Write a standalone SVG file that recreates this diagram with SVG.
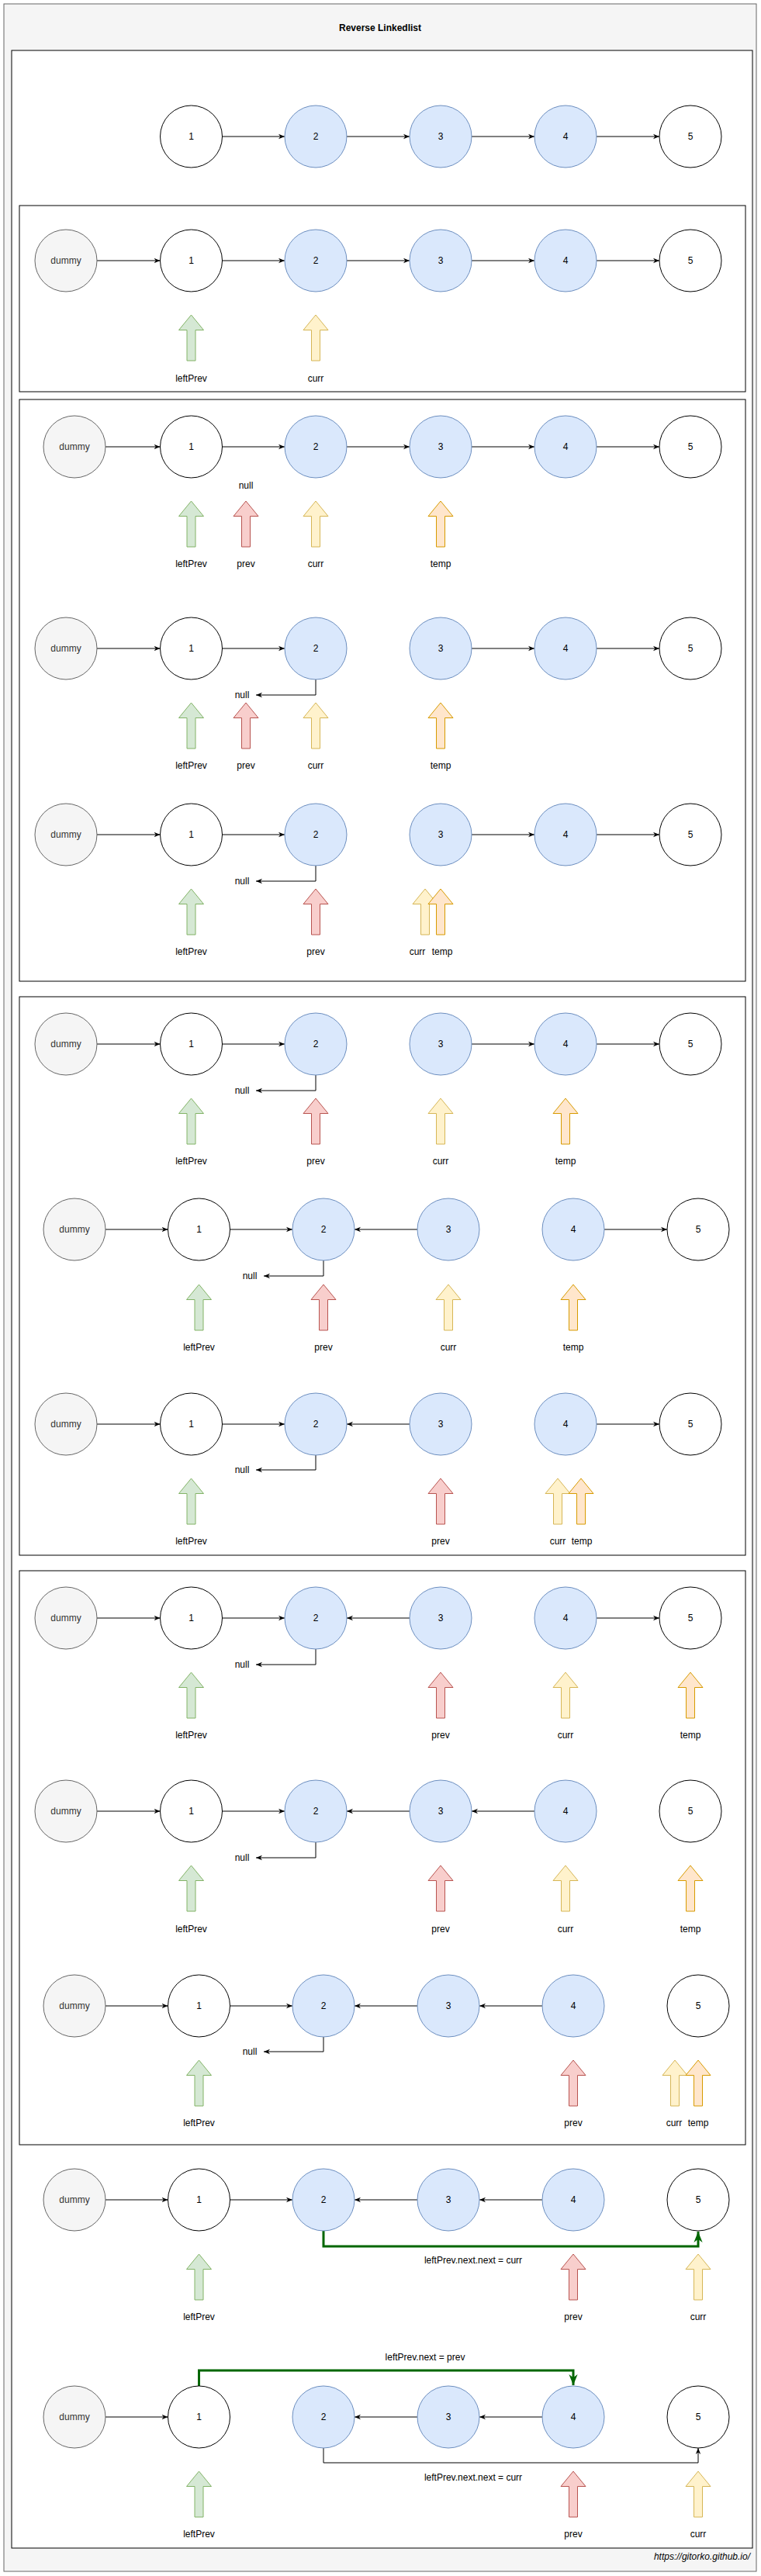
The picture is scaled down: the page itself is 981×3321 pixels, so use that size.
<svg xmlns="http://www.w3.org/2000/svg" width="981" height="3321" viewBox="0 0 981 3321">
<style>
text{font-family:"Liberation Sans",Arial,Helvetica,sans-serif;font-size:12px;text-anchor:middle;dominant-baseline:central;fill:#000}
.w{fill:#fff;stroke:#000;stroke-width:1}
.b{fill:#dae8fc;stroke:#6c8ebf;stroke-width:1}
.d{fill:#f5f5f5;stroke:#666;stroke-width:1}
text.dt{fill:#333}
.pg{fill:#d5e8d4;stroke:#82b366;stroke-width:1}
.pr{fill:#f8cecc;stroke:#b85450;stroke-width:1}
.py{fill:#fff2cc;stroke:#d6b656;stroke-width:1}
.po{fill:#ffe6cc;stroke:#d79b00;stroke-width:1}
.c{fill:none;stroke:#000;stroke-width:1;marker-end:url(#ah)}
.gc{fill:none;stroke:#006600;stroke-width:3;marker-end:url(#gah)}
.box{fill:none;stroke:#000;stroke-width:1}
</style>
<defs>
<marker id="ah" viewBox="0 0 10 10" refX="10" refY="5" markerWidth="8" markerHeight="8" markerUnits="userSpaceOnUse" orient="auto"><path d="M0,1 L10,5 L0,9 L3,5 Z" fill="#000"/></marker>
<marker id="gah" viewBox="0 0 10 10" refX="10" refY="5" markerWidth="14" markerHeight="14" markerUnits="userSpaceOnUse" orient="auto"><path d="M0,1 L10,5 L0,9 L3,5 Z" fill="#006600"/></marker>
<path id="pa" d="M0,0 L16,19.5 L5.5,19.5 L5.5,59 L-5.5,59 L-5.5,19.5 L-16,19.5 Z"/>
</defs>

<g id="frame">
<rect x="5" y="5" width="970" height="3310" fill="#f5f5f5" stroke="#666"/>
<text x="490" y="36" font-weight="bold">Reverse Linkedlist</text>
<rect x="15" y="65" width="955" height="3220" fill="#fff" stroke="#000"/>
<rect class="box" x="25" y="265" width="936" height="240"/>
<rect class="box" x="25" y="515" width="936" height="750"/>
<rect class="box" x="25" y="1285" width="936" height="720"/>
<rect class="box" x="25" y="2025" width="936" height="740"/>
<text x="967" y="3296" font-style="italic" style="text-anchor:end">https://gitorko.github.io/</text>
</g>

<g id="connectors">
<!-- top row -->
<line class="c" x1="286.5" y1="176" x2="367" y2="176"/>
<line class="c" x1="447" y1="176" x2="528" y2="176"/>
<line class="c" x1="608" y1="176" x2="689" y2="176"/>
<line class="c" x1="769" y1="176" x2="850" y2="176"/>
<!-- S1 -->
<line class="c" x1="125" y1="336" x2="206.5" y2="336"/>
<line class="c" x1="286.5" y1="336" x2="367" y2="336"/>
<line class="c" x1="447" y1="336" x2="528" y2="336"/>
<line class="c" x1="608" y1="336" x2="689" y2="336"/>
<line class="c" x1="769" y1="336" x2="850" y2="336"/>
<!-- S2a -->
<line class="c" x1="136" y1="576" x2="206.5" y2="576"/>
<line class="c" x1="286.5" y1="576" x2="367" y2="576"/>
<line class="c" x1="447" y1="576" x2="528" y2="576"/>
<line class="c" x1="608" y1="576" x2="689" y2="576"/>
<line class="c" x1="769" y1="576" x2="850" y2="576"/>
<!-- S2b -->
<line class="c" x1="125" y1="836" x2="206.5" y2="836"/>
<line class="c" x1="286.5" y1="836" x2="367" y2="836"/>
<line class="c" x1="608" y1="836" x2="689" y2="836"/>
<line class="c" x1="769" y1="836" x2="850" y2="836"/>
<path class="c" d="M407,876 V896 H330"/>
<!-- S2c -->
<line class="c" x1="125" y1="1076" x2="206.5" y2="1076"/>
<line class="c" x1="286.5" y1="1076" x2="367" y2="1076"/>
<line class="c" x1="608" y1="1076" x2="689" y2="1076"/>
<line class="c" x1="769" y1="1076" x2="850" y2="1076"/>
<path class="c" d="M407,1116 V1136 H330"/>
<!-- S3a -->
<line class="c" x1="125" y1="1346" x2="206.5" y2="1346"/>
<line class="c" x1="286.5" y1="1346" x2="367" y2="1346"/>
<line class="c" x1="608" y1="1346" x2="689" y2="1346"/>
<line class="c" x1="769" y1="1346" x2="850" y2="1346"/>
<path class="c" d="M407,1386 V1406 H330"/>
<!-- S3b -->
<line class="c" x1="136" y1="1585" x2="216.5" y2="1585"/>
<line class="c" x1="296.5" y1="1585" x2="377" y2="1585"/>
<line class="c" x1="538" y1="1585" x2="457" y2="1585"/>
<line class="c" x1="779" y1="1585" x2="860" y2="1585"/>
<path class="c" d="M417,1625 V1645 H340"/>
<!-- S3c -->
<line class="c" x1="125" y1="1836" x2="206.5" y2="1836"/>
<line class="c" x1="286.5" y1="1836" x2="367" y2="1836"/>
<line class="c" x1="528" y1="1836" x2="447" y2="1836"/>
<line class="c" x1="769" y1="1836" x2="850" y2="1836"/>
<path class="c" d="M407,1876 V1895 H330"/>
<!-- S4a -->
<line class="c" x1="125" y1="2086" x2="206.5" y2="2086"/>
<line class="c" x1="286.5" y1="2086" x2="367" y2="2086"/>
<line class="c" x1="528" y1="2086" x2="447" y2="2086"/>
<line class="c" x1="769" y1="2086" x2="850" y2="2086"/>
<path class="c" d="M407,2126 V2146 H330"/>
<!-- S4b -->
<line class="c" x1="125" y1="2335" x2="206.5" y2="2335"/>
<line class="c" x1="286.5" y1="2335" x2="367" y2="2335"/>
<line class="c" x1="528" y1="2335" x2="447" y2="2335"/>
<line class="c" x1="689" y1="2335" x2="608" y2="2335"/>
<path class="c" d="M407,2375 V2395 H330"/>
<!-- S4c -->
<line class="c" x1="136" y1="2586" x2="216.5" y2="2586"/>
<line class="c" x1="296.5" y1="2586" x2="377" y2="2586"/>
<line class="c" x1="538" y1="2586" x2="457" y2="2586"/>
<line class="c" x1="699" y1="2586" x2="618" y2="2586"/>
<path class="c" d="M417,2626 V2645 H340"/>
<!-- F1 -->
<line class="c" x1="136" y1="2836" x2="216.5" y2="2836"/>
<line class="c" x1="296.5" y1="2836" x2="377" y2="2836"/>
<line class="c" x1="538" y1="2836" x2="457" y2="2836"/>
<line class="c" x1="699" y1="2836" x2="618" y2="2836"/>
<path class="gc" d="M417,2876 V2896 H900 V2877"/>
<!-- F2 -->
<line class="c" x1="136" y1="3116" x2="216.5" y2="3116"/>
<line class="c" x1="538" y1="3116" x2="457" y2="3116"/>
<line class="c" x1="699" y1="3116" x2="618" y2="3116"/>
<path class="gc" d="M256.5,3076 V3056 H739 V3075"/>
<path class="c" d="M417,3156 V3175 H900 V3156"/>
</g>

<g id="labels">
<text x="317" y="626">null</text>
<text x="312" y="896">null</text>
<text x="312" y="1136">null</text>
<text x="312" y="1406">null</text>
<text x="322" y="1645">null</text>
<text x="312" y="1895">null</text>
<text x="312" y="2146">null</text>
<text x="312" y="2395">null</text>
<text x="322" y="2645">null</text>
<text x="610" y="2914">leftPrev.next.next = curr</text>
<text x="548" y="3039">leftPrev.next = prev</text>
<text x="610" y="3194">leftPrev.next.next = curr</text>
</g>

<!-- Top row -->
<g id="rowT">
<g id="t-n1"><circle class="w" cx="246.5" cy="176" r="40"/><text x="246.5" y="176">1</text></g>
<g id="t-n2"><circle class="b" cx="407" cy="176" r="40"/><text x="407" y="176">2</text></g>
<g id="t-n3"><circle class="b" cx="568" cy="176" r="40"/><text x="568" y="176">3</text></g>
<g id="t-n4"><circle class="b" cx="729" cy="176" r="40"/><text x="729" y="176">4</text></g>
<g id="t-n5"><circle class="w" cx="890" cy="176" r="40"/><text x="890" y="176">5</text></g>
</g>

<!-- S1 -->
<g id="rowS1">
<g id="s1-d"><circle class="d" cx="85" cy="336" r="40"/><text class="dt" x="85" y="336">dummy</text></g>
<g id="s1-n1"><circle class="w" cx="246.5" cy="336" r="40"/><text x="246.5" y="336">1</text></g>
<g id="s1-n2"><circle class="b" cx="407" cy="336" r="40"/><text x="407" y="336">2</text></g>
<g id="s1-n3"><circle class="b" cx="568" cy="336" r="40"/><text x="568" y="336">3</text></g>
<g id="s1-n4"><circle class="b" cx="729" cy="336" r="40"/><text x="729" y="336">4</text></g>
<g id="s1-n5"><circle class="w" cx="890" cy="336" r="40"/><text x="890" y="336">5</text></g>
<g id="s1-lp"><use href="#pa" x="246.5" y="406" class="pg"/><text x="246.5" y="488">leftPrev</text></g>
<g id="s1-cu"><use href="#pa" x="407" y="406" class="py"/><text x="407" y="488">curr</text></g>
</g>

<!-- S2a -->
<g id="rowS2a">
<g id="s2a-d"><circle class="d" cx="96" cy="576" r="40"/><text class="dt" x="96" y="576">dummy</text></g>
<g id="s2a-n1"><circle class="w" cx="246.5" cy="576" r="40"/><text x="246.5" y="576">1</text></g>
<g id="s2a-n2"><circle class="b" cx="407" cy="576" r="40"/><text x="407" y="576">2</text></g>
<g id="s2a-n3"><circle class="b" cx="568" cy="576" r="40"/><text x="568" y="576">3</text></g>
<g id="s2a-n4"><circle class="b" cx="729" cy="576" r="40"/><text x="729" y="576">4</text></g>
<g id="s2a-n5"><circle class="w" cx="890" cy="576" r="40"/><text x="890" y="576">5</text></g>
<g id="s2a-lp"><use href="#pa" x="246.5" y="646" class="pg"/><text x="246.5" y="727">leftPrev</text></g>
<g id="s2a-pv"><use href="#pa" x="317" y="646" class="pr"/><text x="317" y="727">prev</text></g>
<g id="s2a-cu"><use href="#pa" x="407" y="646" class="py"/><text x="407" y="727">curr</text></g>
<g id="s2a-tp"><use href="#pa" x="568" y="646" class="po"/><text x="568" y="727">temp</text></g>
</g>

<!-- S2b -->
<g id="rowS2b">
<g id="s2b-d"><circle class="d" cx="85" cy="836" r="40"/><text class="dt" x="85" y="836">dummy</text></g>
<g id="s2b-n1"><circle class="w" cx="246.5" cy="836" r="40"/><text x="246.5" y="836">1</text></g>
<g id="s2b-n2"><circle class="b" cx="407" cy="836" r="40"/><text x="407" y="836">2</text></g>
<g id="s2b-n3"><circle class="b" cx="568" cy="836" r="40"/><text x="568" y="836">3</text></g>
<g id="s2b-n4"><circle class="b" cx="729" cy="836" r="40"/><text x="729" y="836">4</text></g>
<g id="s2b-n5"><circle class="w" cx="890" cy="836" r="40"/><text x="890" y="836">5</text></g>
<g id="s2b-lp"><use href="#pa" x="246.5" y="906" class="pg"/><text x="246.5" y="987">leftPrev</text></g>
<g id="s2b-pv"><use href="#pa" x="317" y="906" class="pr"/><text x="317" y="987">prev</text></g>
<g id="s2b-cu"><use href="#pa" x="407" y="906" class="py"/><text x="407" y="987">curr</text></g>
<g id="s2b-tp"><use href="#pa" x="568" y="906" class="po"/><text x="568" y="987">temp</text></g>
</g>

<!-- S2c -->
<g id="rowS2c">
<g id="s2c-d"><circle class="d" cx="85" cy="1076" r="40"/><text class="dt" x="85" y="1076">dummy</text></g>
<g id="s2c-n1"><circle class="w" cx="246.5" cy="1076" r="40"/><text x="246.5" y="1076">1</text></g>
<g id="s2c-n2"><circle class="b" cx="407" cy="1076" r="40"/><text x="407" y="1076">2</text></g>
<g id="s2c-n3"><circle class="b" cx="568" cy="1076" r="40"/><text x="568" y="1076">3</text></g>
<g id="s2c-n4"><circle class="b" cx="729" cy="1076" r="40"/><text x="729" y="1076">4</text></g>
<g id="s2c-n5"><circle class="w" cx="890" cy="1076" r="40"/><text x="890" y="1076">5</text></g>
<g id="s2c-lp"><use href="#pa" x="246.5" y="1146" class="pg"/><text x="246.5" y="1227">leftPrev</text></g>
<g id="s2c-pv"><use href="#pa" x="407" y="1146" class="pr"/><text x="407" y="1227">prev</text></g>
<g id="s2c-cu"><use href="#pa" x="548" y="1146" class="py"/><text x="538" y="1227">curr</text></g>
<g id="s2c-tp"><use href="#pa" x="568" y="1146" class="po"/><text x="570" y="1227">temp</text></g>
</g>

<!-- S3a -->
<g id="rowS3a">
<g id="s3a-d"><circle class="d" cx="85" cy="1346" r="40"/><text class="dt" x="85" y="1346">dummy</text></g>
<g id="s3a-n1"><circle class="w" cx="246.5" cy="1346" r="40"/><text x="246.5" y="1346">1</text></g>
<g id="s3a-n2"><circle class="b" cx="407" cy="1346" r="40"/><text x="407" y="1346">2</text></g>
<g id="s3a-n3"><circle class="b" cx="568" cy="1346" r="40"/><text x="568" y="1346">3</text></g>
<g id="s3a-n4"><circle class="b" cx="729" cy="1346" r="40"/><text x="729" y="1346">4</text></g>
<g id="s3a-n5"><circle class="w" cx="890" cy="1346" r="40"/><text x="890" y="1346">5</text></g>
<g id="s3a-lp"><use href="#pa" x="246.5" y="1416" class="pg"/><text x="246.5" y="1497">leftPrev</text></g>
<g id="s3a-pv"><use href="#pa" x="407" y="1416" class="pr"/><text x="407" y="1497">prev</text></g>
<g id="s3a-cu"><use href="#pa" x="568" y="1416" class="py"/><text x="568" y="1497">curr</text></g>
<g id="s3a-tp"><use href="#pa" x="729" y="1416" class="po"/><text x="729" y="1497">temp</text></g>
</g>

<!-- S3b -->
<g id="rowS3b">
<g id="s3b-d"><circle class="d" cx="96" cy="1585" r="40"/><text class="dt" x="96" y="1585">dummy</text></g>
<g id="s3b-n1"><circle class="w" cx="256.5" cy="1585" r="40"/><text x="256.5" y="1585">1</text></g>
<g id="s3b-n2"><circle class="b" cx="417" cy="1585" r="40"/><text x="417" y="1585">2</text></g>
<g id="s3b-n3"><circle class="b" cx="578" cy="1585" r="40"/><text x="578" y="1585">3</text></g>
<g id="s3b-n4"><circle class="b" cx="739" cy="1585" r="40"/><text x="739" y="1585">4</text></g>
<g id="s3b-n5"><circle class="w" cx="900" cy="1585" r="40"/><text x="900" y="1585">5</text></g>
<g id="s3b-lp"><use href="#pa" x="256.5" y="1656" class="pg"/><text x="256.5" y="1737">leftPrev</text></g>
<g id="s3b-pv"><use href="#pa" x="417" y="1656" class="pr"/><text x="417" y="1737">prev</text></g>
<g id="s3b-cu"><use href="#pa" x="578" y="1656" class="py"/><text x="578" y="1737">curr</text></g>
<g id="s3b-tp"><use href="#pa" x="739" y="1656" class="po"/><text x="739" y="1737">temp</text></g>
</g>

<!-- S3c -->
<g id="rowS3c">
<g id="s3c-d"><circle class="d" cx="85" cy="1836" r="40"/><text class="dt" x="85" y="1836">dummy</text></g>
<g id="s3c-n1"><circle class="w" cx="246.5" cy="1836" r="40"/><text x="246.5" y="1836">1</text></g>
<g id="s3c-n2"><circle class="b" cx="407" cy="1836" r="40"/><text x="407" y="1836">2</text></g>
<g id="s3c-n3"><circle class="b" cx="568" cy="1836" r="40"/><text x="568" y="1836">3</text></g>
<g id="s3c-n4"><circle class="b" cx="729" cy="1836" r="40"/><text x="729" y="1836">4</text></g>
<g id="s3c-n5"><circle class="w" cx="890" cy="1836" r="40"/><text x="890" y="1836">5</text></g>
<g id="s3c-lp"><use href="#pa" x="246.5" y="1906" class="pg"/><text x="246.5" y="1987">leftPrev</text></g>
<g id="s3c-pv"><use href="#pa" x="568" y="1906" class="pr"/><text x="568" y="1987">prev</text></g>
<g id="s3c-cu"><use href="#pa" x="719" y="1906" class="py"/><text x="719" y="1987">curr</text></g>
<g id="s3c-tp"><use href="#pa" x="749" y="1906" class="po"/><text x="750" y="1987">temp</text></g>
</g>

<!-- S4a -->
<g id="rowS4a">
<g id="s4a-d"><circle class="d" cx="85" cy="2086" r="40"/><text class="dt" x="85" y="2086">dummy</text></g>
<g id="s4a-n1"><circle class="w" cx="246.5" cy="2086" r="40"/><text x="246.5" y="2086">1</text></g>
<g id="s4a-n2"><circle class="b" cx="407" cy="2086" r="40"/><text x="407" y="2086">2</text></g>
<g id="s4a-n3"><circle class="b" cx="568" cy="2086" r="40"/><text x="568" y="2086">3</text></g>
<g id="s4a-n4"><circle class="b" cx="729" cy="2086" r="40"/><text x="729" y="2086">4</text></g>
<g id="s4a-n5"><circle class="w" cx="890" cy="2086" r="40"/><text x="890" y="2086">5</text></g>
<g id="s4a-lp"><use href="#pa" x="246.5" y="2156" class="pg"/><text x="246.5" y="2237">leftPrev</text></g>
<g id="s4a-pv"><use href="#pa" x="568" y="2156" class="pr"/><text x="568" y="2237">prev</text></g>
<g id="s4a-cu"><use href="#pa" x="729" y="2156" class="py"/><text x="729" y="2237">curr</text></g>
<g id="s4a-tp"><use href="#pa" x="890" y="2156" class="po"/><text x="890" y="2237">temp</text></g>
</g>

<!-- S4b -->
<g id="rowS4b">
<g id="s4b-d"><circle class="d" cx="85" cy="2335" r="40"/><text class="dt" x="85" y="2335">dummy</text></g>
<g id="s4b-n1"><circle class="w" cx="246.5" cy="2335" r="40"/><text x="246.5" y="2335">1</text></g>
<g id="s4b-n2"><circle class="b" cx="407" cy="2335" r="40"/><text x="407" y="2335">2</text></g>
<g id="s4b-n3"><circle class="b" cx="568" cy="2335" r="40"/><text x="568" y="2335">3</text></g>
<g id="s4b-n4"><circle class="b" cx="729" cy="2335" r="40"/><text x="729" y="2335">4</text></g>
<g id="s4b-n5"><circle class="w" cx="890" cy="2335" r="40"/><text x="890" y="2335">5</text></g>
<g id="s4b-lp"><use href="#pa" x="246.5" y="2405" class="pg"/><text x="246.5" y="2487">leftPrev</text></g>
<g id="s4b-pv"><use href="#pa" x="568" y="2405" class="pr"/><text x="568" y="2487">prev</text></g>
<g id="s4b-cu"><use href="#pa" x="729" y="2405" class="py"/><text x="729" y="2487">curr</text></g>
<g id="s4b-tp"><use href="#pa" x="890" y="2405" class="po"/><text x="890" y="2487">temp</text></g>
</g>

<!-- S4c -->
<g id="rowS4c">
<g id="s4c-d"><circle class="d" cx="96" cy="2586" r="40"/><text class="dt" x="96" y="2586">dummy</text></g>
<g id="s4c-n1"><circle class="w" cx="256.5" cy="2586" r="40"/><text x="256.5" y="2586">1</text></g>
<g id="s4c-n2"><circle class="b" cx="417" cy="2586" r="40"/><text x="417" y="2586">2</text></g>
<g id="s4c-n3"><circle class="b" cx="578" cy="2586" r="40"/><text x="578" y="2586">3</text></g>
<g id="s4c-n4"><circle class="b" cx="739" cy="2586" r="40"/><text x="739" y="2586">4</text></g>
<g id="s4c-n5"><circle class="w" cx="900" cy="2586" r="40"/><text x="900" y="2586">5</text></g>
<g id="s4c-lp"><use href="#pa" x="256.5" y="2656" class="pg"/><text x="256.5" y="2737">leftPrev</text></g>
<g id="s4c-pv"><use href="#pa" x="739" y="2656" class="pr"/><text x="739" y="2737">prev</text></g>
<g id="s4c-cu"><use href="#pa" x="870" y="2656" class="py"/><text x="869" y="2737">curr</text></g>
<g id="s4c-tp"><use href="#pa" x="900" y="2656" class="po"/><text x="900" y="2737">temp</text></g>
</g>

<!-- F1 -->
<g id="rowF1">
<g id="f1-d"><circle class="d" cx="96" cy="2836" r="40"/><text class="dt" x="96" y="2836">dummy</text></g>
<g id="f1-n1"><circle class="w" cx="256.5" cy="2836" r="40"/><text x="256.5" y="2836">1</text></g>
<g id="f1-n2"><circle class="b" cx="417" cy="2836" r="40"/><text x="417" y="2836">2</text></g>
<g id="f1-n3"><circle class="b" cx="578" cy="2836" r="40"/><text x="578" y="2836">3</text></g>
<g id="f1-n4"><circle class="b" cx="739" cy="2836" r="40"/><text x="739" y="2836">4</text></g>
<g id="f1-n5"><circle class="w" cx="900" cy="2836" r="40"/><text x="900" y="2836">5</text></g>
<g id="f1-lp"><use href="#pa" x="256.5" y="2906" class="pg"/><text x="256.5" y="2987">leftPrev</text></g>
<g id="f1-pv"><use href="#pa" x="739" y="2906" class="pr"/><text x="739" y="2987">prev</text></g>
<g id="f1-cu"><use href="#pa" x="900" y="2906" class="py"/><text x="900" y="2987">curr</text></g>
</g>

<!-- F2 -->
<g id="rowF2">
<g id="f2-d"><circle class="d" cx="96" cy="3116" r="40"/><text class="dt" x="96" y="3116">dummy</text></g>
<g id="f2-n1"><circle class="w" cx="256.5" cy="3116" r="40"/><text x="256.5" y="3116">1</text></g>
<g id="f2-n2"><circle class="b" cx="417" cy="3116" r="40"/><text x="417" y="3116">2</text></g>
<g id="f2-n3"><circle class="b" cx="578" cy="3116" r="40"/><text x="578" y="3116">3</text></g>
<g id="f2-n4"><circle class="b" cx="739" cy="3116" r="40"/><text x="739" y="3116">4</text></g>
<g id="f2-n5"><circle class="w" cx="900" cy="3116" r="40"/><text x="900" y="3116">5</text></g>
<g id="f2-lp"><use href="#pa" x="256.5" y="3186" class="pg"/><text x="256.5" y="3267">leftPrev</text></g>
<g id="f2-pv"><use href="#pa" x="739" y="3186" class="pr"/><text x="739" y="3267">prev</text></g>
<g id="f2-cu"><use href="#pa" x="900" y="3186" class="py"/><text x="900" y="3267">curr</text></g>
</g>
</svg>
